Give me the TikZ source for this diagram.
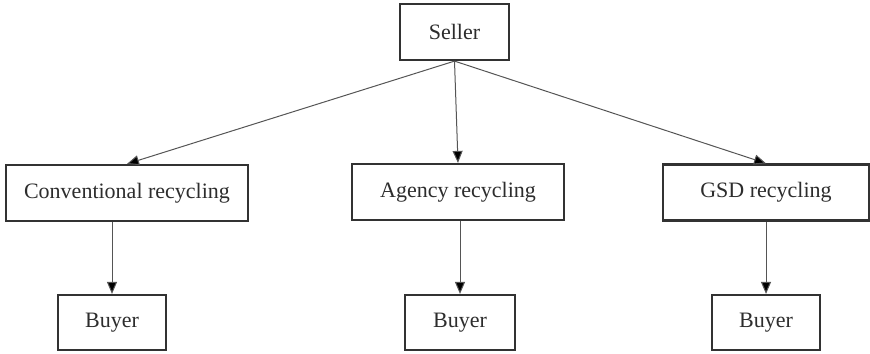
\documentclass[tikz,border=0pt]{standalone}
\usepackage{fontspec}
\setmainfont{Liberation Serif}
\usepackage{tikz}
\usetikzlibrary{arrows.meta,positioning}
\definecolor{boxLine}{RGB}{50,50,50}
\definecolor{flowLine}{RGB}{85,85,85}
\definecolor{txtGray}{RGB}{45,45,45}

\begin{document}
\begin{tikzpicture}[
  x=0.5pt, y=-0.5pt,
  font=\fontsize{11pt}{13pt}\selectfont,
  box/.style={draw=boxLine, line width=1.1pt, fill=white, text=txtGray, minimum height=28pt, inner sep=0pt, align=center},
  flow/.style={draw=flowLine, line width=0.5pt, -{Triangle[length=6pt, width=5pt, fill=black]}}
]
\useasboundingbox (0,0) rectangle (870,353);

\node[box, minimum width=54.5pt] (seller) at (454.5,32)  {Seller};
\node[box, minimum width=121pt]  (conv)   at (127,193)   {Conventional recycling};
\node[box, minimum width=106pt]  (agency) at (458,192)   {Agency recycling};
\node[box, minimum width=103pt]  (gsd)    at (766,192.5) {GSD recycling};
\node[box, minimum width=54pt, minimum height=27.5pt] (buyA) at (112,322.5) {Buyer};
\node[box, minimum width=55pt, minimum height=27.5pt] (buyB) at (460,322.5) {Buyer};
\node[box, minimum width=54pt, minimum height=27.5pt] (buyC) at (766,322.5) {Buyer};

\draw[flow] (seller.south) -- (conv.north);
\draw[flow] (seller.south) -- (agency.north);
\draw[flow] (seller.south) -- (gsd.north);
\draw[flow] (conv.south -| buyA.north)   -- (buyA.north);
\draw[flow] (agency.south -| buyB.north) -- (buyB.north);
\draw[flow] (gsd.south -| buyC.north)    -- (buyC.north);
\end{tikzpicture}
\end{document}
